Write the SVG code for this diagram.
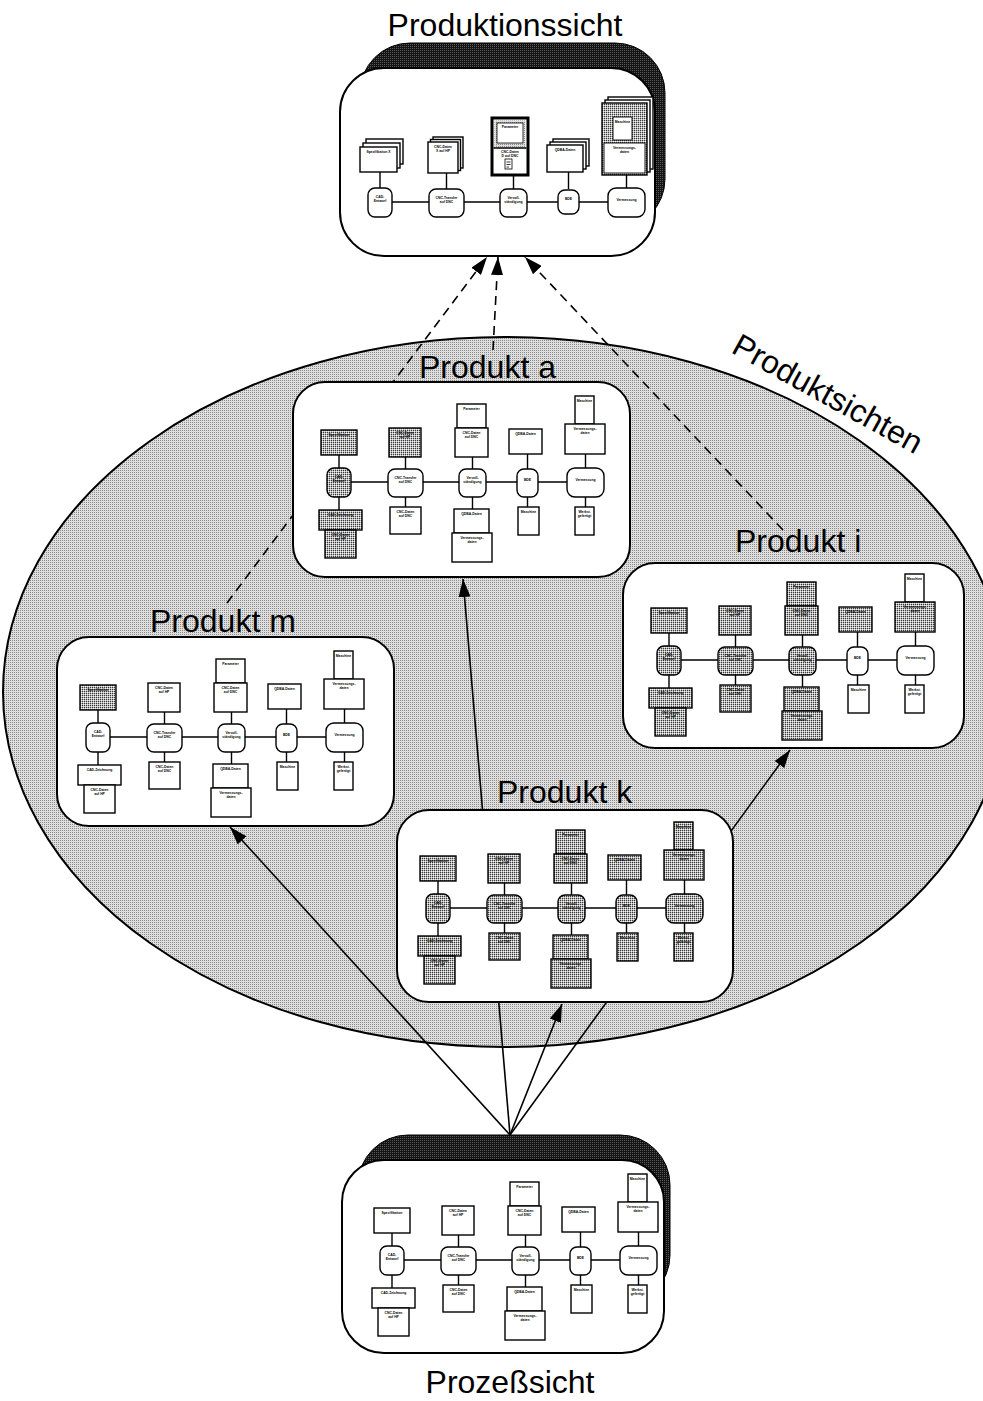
<svg xmlns="http://www.w3.org/2000/svg" width="983" height="1401" viewBox="0 0 983 1401">
<defs>
  <pattern id="dotL" width="2" height="2" patternUnits="userSpaceOnUse">
    <rect width="2" height="2" fill="#dedede"/><rect width="1" height="1" fill="#8a8a8a"/>
  </pattern>
  <pattern id="dotD" width="2" height="2" patternUnits="userSpaceOnUse">
    <rect width="2" height="2" fill="#b8b8b8"/><rect width="1" height="1" fill="#3a3a3a"/><rect x="1" y="1" width="1" height="1" fill="#f2f2f2"/>
  </pattern>
  <pattern id="dotK" width="2" height="2" patternUnits="userSpaceOnUse">
    <rect width="2" height="2" fill="#141414"/><rect width="1" height="1" fill="#5a5a5a"/>
  </pattern>
  <marker id="ah" markerUnits="userSpaceOnUse" viewBox="0 0 18 12" markerWidth="18" markerHeight="12" refX="18" refY="6" orient="auto">
    <path d="M0 0L18 6L0 12z" fill="#000"/>
  </marker>
  <style>
    .w{fill:#fff;stroke:#000;stroke-width:1.4}
    .s{fill:url(#dotD);stroke:#000;stroke-width:1.4}
    .ln{fill:none;stroke:#000;stroke-width:1.4}
    .t{font-family:"Liberation Sans",Arial,sans-serif;font-size:3.4px;font-weight:bold;text-anchor:middle;fill:#000}
    .box{fill:#fff;stroke:#000;stroke-width:2}
    .shadow{fill:url(#dotK);stroke:#000;stroke-width:1}
    .lbl{font-family:"Liberation Sans",Arial,sans-serif;font-size:32px;fill:#000}
    .dash{fill:none;stroke:#000;stroke-width:1.6;stroke-dasharray:9 6}
    .sol{fill:none;stroke:#000;stroke-width:1.6}
  </style>
</defs>

<rect width="983" height="1401" fill="#fff"/>

<!-- product views: shaded ellipse -->
<g id="produktsichten">
  <ellipse cx="505" cy="692" rx="502" ry="355" fill="url(#dotL)" stroke="#000" stroke-width="2"/>
  <text class="lbl" transform="translate(730 352) rotate(29)">Produktsichten</text>
</g>

<!-- connectors -->
<g id="connectors">
  <path class="dash" d="M227 603L487 257" marker-end="url(#ah)"/>
  <path class="dash" d="M493 350L498 257" marker-end="url(#ah)"/>
  <path class="dash" d="M783 530L525 257" marker-end="url(#ah)"/>
  <path class="sol" d="M510 1135L230 827" marker-end="url(#ah)"/>
  <path class="sol" d="M510 1135L463 579" marker-end="url(#ah)"/>
  <path class="sol" d="M510 1135L562 1004" marker-end="url(#ah)"/>
  <path class="sol" d="M510 1135L790 750" marker-end="url(#ah)"/>
</g>

<!-- production view -->
<g id="produktionssicht">
  <text class="lbl" x="505" y="36" text-anchor="middle">Produktionssicht</text>
  <rect class="shadow" x="360" y="43" width="305" height="186" rx="50"/>
  <rect class="box" x="340" y="68" width="315" height="188" rx="44"/>
  <g transform="translate(368 102)">
    <path class="ln" d="M12 100H258.5M12 70V86M78.5 71V87M145.5 73V87M200.5 70V87M258.5 73V86"/>
    <rect class="w" x="-2" y="37" width="37" height="25"/>
    <rect class="w" x="-5" y="41" width="37" height="25"/>
    <rect class="w" x="-8" y="45" width="37" height="25"/><text class="t" x="10.5" y="51">Spezifikation X</text>
    <rect class="w" x="65" y="35" width="30" height="31"/>
    <rect class="w" x="62.5" y="37.5" width="30" height="31"/>
    <rect class="w" x="60" y="40" width="30" height="31"/><text class="t" x="75" y="46">CNC-Daten<tspan x="75" dy="4.2">X auf HP</tspan></text>
    <rect x="124" y="16" width="36" height="57" fill="#fff" stroke="#000" stroke-width="3"/>
    <rect x="126.5" y="18.5" width="31" height="27" fill="url(#dotL)"/>
    <rect x="129" y="21" width="26" height="20" fill="#fff" stroke="#000" stroke-width="0.8"/><text class="t" x="142" y="26">Parameter</text>
    <path class="ln" d="M125.5 46H158.5"/>
    <text class="t" x="142" y="51">CNC-Daten<tspan x="142" dy="4.2">D auf DNC</tspan></text>
    <rect x="137" y="57" width="7" height="10" fill="#fff" stroke="#000" stroke-width="0.8"/>
    <path d="M138.5 60H142.5M138.5 62.5H142.5M138.5 65H141" stroke="#000" stroke-width="0.8"/>
    <rect class="w" x="185" y="37" width="36" height="27"/>
    <rect class="w" x="182" y="40" width="36" height="27"/>
    <rect class="w" x="179" y="43" width="36" height="27"/><text class="t" x="197" y="49">QDBA-Daten</text>
    <rect class="w" x="240" y="-5" width="45" height="72"/>
    <rect class="w" x="237" y="-2" width="45" height="72"/>
    <rect class="s" x="234" y="1" width="45" height="72"/>
    <rect x="245" y="15" width="19" height="23" fill="#fff" stroke="#000" stroke-width="0.9"/><text class="t" x="254.5" y="21">Maschine</text>
    <rect x="236" y="41" width="41" height="30" fill="#fff" stroke="#000" stroke-width="0.9"/><text class="t" x="256.5" y="47">Vermessungs-<tspan x="256.5" dy="4.2">daten</tspan></text>
    <rect class="w" x="0" y="86" width="24" height="29" rx="7"/><text class="t" x="12" y="96">CAD-<tspan x="12" dy="4.2">Entwurf</tspan></text>
    <rect class="w" x="61" y="87" width="35" height="28" rx="7"/><text class="t" x="78.5" y="97">CNC-Transfer<tspan x="78.5" dy="4.2">auf DNC</tspan></text>
    <rect class="w" x="132" y="87" width="27" height="28" rx="7"/><text class="t" x="145.5" y="97">Vervoll-<tspan x="145.5" dy="4.2">ständigung</tspan></text>
    <rect class="w" x="190" y="88" width="21" height="24" rx="7"/><text class="t" x="200.5" y="98">BDE</text>
    <rect class="w" x="240" y="86" width="37" height="29" rx="8"/><text class="t" x="258.5" y="99">Vermessung</text>
  </g>
</g>

<!-- product a -->
<g id="produkt-a">
  <rect class="box" x="293" y="382" width="337" height="195" rx="32"/>
  <text class="lbl" x="419" y="378">Produkt a</text>
  <g transform="translate(327 382)">
    <path class="ln" d="M12 100H258.5M12 73V86M12 115V128M78.5 75V87M78.5 115V125M145.5 75V87M145.5 115V127M200.5 72V87M200.5 115V125M258.5 72V86M258.5 115V125"/>
    <rect class="s" x="-6" y="48" width="36" height="25"/><text class="t" x="12" y="54">Spezifikation</text>
    <rect class="s" x="62" y="46" width="32" height="29"/><text class="t" x="78" y="52">CNC-Daten<tspan x="78" dy="4.2">auf HP</tspan></text>
    <rect class="w" x="130" y="22" width="29" height="24"/><text class="t" x="144.5" y="28">Parameter</text>
    <rect class="w" x="128" y="46" width="33" height="29"/><text class="t" x="144.5" y="52">CNC-Daten<tspan x="144.5" dy="4.2">auf DNC</tspan></text>
    <rect class="w" x="182" y="47" width="33" height="25"/><text class="t" x="198.5" y="53">QDBA-Daten</text>
    <rect class="w" x="248" y="14" width="19" height="28"/><text class="t" x="257.5" y="20">Maschine</text>
    <rect class="w" x="238" y="42" width="40" height="30"/><text class="t" x="258" y="48">Vermessungs-<tspan x="258" dy="4.2">daten</tspan></text>
    <rect class="s" x="0" y="86" width="24" height="29" rx="7"/><text class="t" x="12" y="96">CAD-<tspan x="12" dy="4.2">Entwurf</tspan></text>
    <rect class="w" x="61" y="87" width="35" height="28" rx="7"/><text class="t" x="78.5" y="97">CNC-Transfer<tspan x="78.5" dy="4.2">auf DNC</tspan></text>
    <rect class="w" x="132" y="87" width="27" height="28" rx="7"/><text class="t" x="145.5" y="97">Vervoll-<tspan x="145.5" dy="4.2">ständigung</tspan></text>
    <rect class="w" x="190" y="87" width="21" height="28" rx="7"/><text class="t" x="200.5" y="99">BDE</text>
    <rect class="w" x="240" y="86" width="37" height="29" rx="8"/><text class="t" x="258.5" y="99">Vermessung</text>
    <rect class="s" x="-8" y="128" width="43" height="20"/><text class="t" x="13.5" y="134">CAD-Zeichnung</text>
    <rect class="s" x="-2" y="148" width="31" height="28"/><text class="t" x="13.5" y="154">CNC-Daten<tspan x="13.5" dy="4.2">auf HP</tspan></text>
    <rect class="w" x="63" y="125" width="31" height="27"/><text class="t" x="78.5" y="131">CNC-Daten<tspan x="78.5" dy="4.2">auf DNC</tspan></text>
    <rect class="w" x="127" y="127" width="35" height="24"/><text class="t" x="144.5" y="133">QDBA-Daten</text>
    <rect class="w" x="125" y="151" width="40" height="29"/><text class="t" x="145" y="157">Vermessungs-<tspan x="145" dy="4.2">daten</tspan></text>
    <rect class="w" x="191" y="125" width="21" height="28"/><text class="t" x="201.5" y="131">Maschine</text>
    <rect class="w" x="248" y="125" width="19" height="28"/><text class="t" x="257.5" y="131">Werkst.<tspan x="257.5" dy="4.2">gefertigt</tspan></text>
  </g>
</g>

<!-- product m -->
<g id="produkt-m">
  <rect class="box" x="57" y="637" width="337" height="189" rx="32"/>
  <text class="lbl" x="150" y="632">Produkt m</text>
  <g transform="translate(86 637)">
    <path class="ln" d="M12 100H258.5M12 73V86M12 115V128M78.5 75V87M78.5 115V125M145.5 75V87M145.5 115V127M200.5 72V87M200.5 115V125M258.5 72V86M258.5 115V125"/>
    <rect class="s" x="-6" y="48" width="36" height="25"/><text class="t" x="12" y="54">Spezifikation</text>
    <rect class="w" x="62" y="46" width="32" height="29"/><text class="t" x="78" y="52">CNC-Daten<tspan x="78" dy="4.2">auf HP</tspan></text>
    <rect class="w" x="130" y="22" width="29" height="24"/><text class="t" x="144.5" y="28">Parameter</text>
    <rect class="w" x="128" y="46" width="33" height="29"/><text class="t" x="144.5" y="52">CNC-Daten<tspan x="144.5" dy="4.2">auf DNC</tspan></text>
    <rect class="w" x="182" y="47" width="33" height="25"/><text class="t" x="198.5" y="53">QDBA-Daten</text>
    <rect class="w" x="248" y="14" width="19" height="28"/><text class="t" x="257.5" y="20">Maschine</text>
    <rect class="w" x="238" y="42" width="40" height="30"/><text class="t" x="258" y="48">Vermessungs-<tspan x="258" dy="4.2">daten</tspan></text>
    <rect class="w" x="0" y="86" width="24" height="29" rx="7"/><text class="t" x="12" y="96">CAD-<tspan x="12" dy="4.2">Entwurf</tspan></text>
    <rect class="w" x="61" y="87" width="35" height="28" rx="7"/><text class="t" x="78.5" y="97">CNC-Transfer<tspan x="78.5" dy="4.2">auf DNC</tspan></text>
    <rect class="w" x="132" y="87" width="27" height="28" rx="7"/><text class="t" x="145.5" y="97">Vervoll-<tspan x="145.5" dy="4.2">ständigung</tspan></text>
    <rect class="w" x="190" y="87" width="21" height="28" rx="7"/><text class="t" x="200.5" y="99">BDE</text>
    <rect class="w" x="240" y="86" width="37" height="29" rx="8"/><text class="t" x="258.5" y="99">Vermessung</text>
    <rect class="w" x="-8" y="128" width="43" height="20"/><text class="t" x="13.5" y="134">CAD-Zeichnung</text>
    <rect class="w" x="-2" y="148" width="31" height="28"/><text class="t" x="13.5" y="154">CNC-Daten<tspan x="13.5" dy="4.2">auf HP</tspan></text>
    <rect class="w" x="63" y="125" width="31" height="27"/><text class="t" x="78.5" y="131">CNC-Daten<tspan x="78.5" dy="4.2">auf DNC</tspan></text>
    <rect class="w" x="127" y="127" width="35" height="24"/><text class="t" x="144.5" y="133">QDBA-Daten</text>
    <rect class="w" x="125" y="151" width="40" height="29"/><text class="t" x="145" y="157">Vermessungs-<tspan x="145" dy="4.2">daten</tspan></text>
    <rect class="w" x="191" y="125" width="21" height="28"/><text class="t" x="201.5" y="131">Maschine</text>
    <rect class="w" x="248" y="125" width="19" height="28"/><text class="t" x="257.5" y="131">Werkst.<tspan x="257.5" dy="4.2">gefertigt</tspan></text>
  </g>
</g>

<!-- product i -->
<g id="produkt-i">
  <rect class="box" x="623" y="563" width="341" height="185" rx="32"/>
  <text class="lbl" x="735" y="552">Produkt i</text>
  <g transform="translate(657 560)">
    <path class="ln" d="M12 100H258.5M12 73V86M12 115V128M78.5 75V87M78.5 115V125M145.5 75V87M145.5 115V127M200.5 72V87M200.5 115V125M258.5 72V86M258.5 115V125"/>
    <rect class="s" x="-6" y="48" width="36" height="25"/><text class="t" x="12" y="54">Spezifikation</text>
    <rect class="s" x="62" y="46" width="32" height="29"/><text class="t" x="78" y="52">CNC-Daten<tspan x="78" dy="4.2">auf HP</tspan></text>
    <rect class="s" x="130" y="22" width="29" height="24"/><text class="t" x="144.5" y="28">Parameter</text>
    <rect class="s" x="128" y="46" width="33" height="29"/><text class="t" x="144.5" y="52">CNC-Daten<tspan x="144.5" dy="4.2">auf DNC</tspan></text>
    <rect class="s" x="182" y="47" width="33" height="25"/><text class="t" x="198.5" y="53">QDBA-Daten</text>
    <rect class="w" x="248" y="14" width="19" height="28"/><text class="t" x="257.5" y="20">Maschine</text>
    <rect class="s" x="238" y="42" width="40" height="30"/><text class="t" x="258" y="48">Vermessungs-<tspan x="258" dy="4.2">daten</tspan></text>
    <rect class="s" x="0" y="86" width="24" height="29" rx="7"/><text class="t" x="12" y="96">CAD-<tspan x="12" dy="4.2">Entwurf</tspan></text>
    <rect class="s" x="61" y="87" width="35" height="28" rx="7"/><text class="t" x="78.5" y="97">CNC-Transfer<tspan x="78.5" dy="4.2">auf DNC</tspan></text>
    <rect class="s" x="132" y="87" width="27" height="28" rx="7"/><text class="t" x="145.5" y="97">Vervoll-<tspan x="145.5" dy="4.2">ständigung</tspan></text>
    <rect class="w" x="190" y="87" width="21" height="28" rx="7"/><text class="t" x="200.5" y="99">BDE</text>
    <rect class="w" x="240" y="86" width="37" height="29" rx="8"/><text class="t" x="258.5" y="99">Vermessung</text>
    <rect class="s" x="-8" y="128" width="43" height="20"/><text class="t" x="13.5" y="134">CAD-Zeichnung</text>
    <rect class="s" x="-2" y="148" width="31" height="28"/><text class="t" x="13.5" y="154">CNC-Daten<tspan x="13.5" dy="4.2">auf HP</tspan></text>
    <rect class="s" x="63" y="125" width="31" height="27"/><text class="t" x="78.5" y="131">CNC-Daten<tspan x="78.5" dy="4.2">auf DNC</tspan></text>
    <rect class="s" x="127" y="127" width="35" height="24"/><text class="t" x="144.5" y="133">QDBA-Daten</text>
    <rect class="s" x="125" y="151" width="40" height="29"/><text class="t" x="145" y="157">Vermessungs-<tspan x="145" dy="4.2">daten</tspan></text>
    <rect class="w" x="191" y="125" width="21" height="28"/><text class="t" x="201.5" y="131">Maschine</text>
    <rect class="w" x="248" y="125" width="19" height="28"/><text class="t" x="257.5" y="131">Werkst.<tspan x="257.5" dy="4.2">gefertigt</tspan></text>
  </g>
</g>

<!-- product k -->
<g id="produkt-k">
  <rect class="box" x="397" y="810" width="336" height="192" rx="32"/>
  <text class="lbl" x="497" y="803">Produkt k</text>
  <g transform="translate(426 808)">
    <path class="ln" d="M12 100H258.5M12 73V86M12 115V128M78.5 75V87M78.5 115V125M145.5 75V87M145.5 115V127M200.5 72V87M200.5 115V125M258.5 72V86M258.5 115V125"/>
    <rect class="s" x="-6" y="48" width="36" height="25"/><text class="t" x="12" y="54">Spezifikation</text>
    <rect class="s" x="62" y="46" width="32" height="29"/><text class="t" x="78" y="52">CNC-Daten<tspan x="78" dy="4.2">auf HP</tspan></text>
    <rect class="s" x="130" y="22" width="29" height="24"/><text class="t" x="144.5" y="28">Parameter</text>
    <rect class="s" x="128" y="46" width="33" height="29"/><text class="t" x="144.5" y="52">CNC-Daten<tspan x="144.5" dy="4.2">auf DNC</tspan></text>
    <rect class="s" x="182" y="47" width="33" height="25"/><text class="t" x="198.5" y="53">QDBA-Daten</text>
    <rect class="s" x="248" y="14" width="19" height="28"/><text class="t" x="257.5" y="20">Maschine</text>
    <rect class="s" x="238" y="42" width="40" height="30"/><text class="t" x="258" y="48">Vermessungs-<tspan x="258" dy="4.2">daten</tspan></text>
    <rect class="s" x="0" y="86" width="24" height="29" rx="7"/><text class="t" x="12" y="96">CAD-<tspan x="12" dy="4.2">Entwurf</tspan></text>
    <rect class="s" x="61" y="87" width="35" height="28" rx="7"/><text class="t" x="78.5" y="97">CNC-Transfer<tspan x="78.5" dy="4.2">auf DNC</tspan></text>
    <rect class="s" x="132" y="87" width="27" height="28" rx="7"/><text class="t" x="145.5" y="97">Vervoll-<tspan x="145.5" dy="4.2">ständigung</tspan></text>
    <rect class="s" x="190" y="87" width="21" height="28" rx="7"/><text class="t" x="200.5" y="99">BDE</text>
    <rect class="s" x="240" y="86" width="37" height="29" rx="8"/><text class="t" x="258.5" y="99">Vermessung</text>
    <rect class="s" x="-8" y="128" width="43" height="20"/><text class="t" x="13.5" y="134">CAD-Zeichnung</text>
    <rect class="s" x="-2" y="148" width="31" height="28"/><text class="t" x="13.5" y="154">CNC-Daten<tspan x="13.5" dy="4.2">auf HP</tspan></text>
    <rect class="s" x="63" y="125" width="31" height="27"/><text class="t" x="78.5" y="131">CNC-Daten<tspan x="78.5" dy="4.2">auf DNC</tspan></text>
    <rect class="s" x="127" y="127" width="35" height="24"/><text class="t" x="144.5" y="133">QDBA-Daten</text>
    <rect class="s" x="125" y="151" width="40" height="29"/><text class="t" x="145" y="157">Vermessungs-<tspan x="145" dy="4.2">daten</tspan></text>
    <rect class="s" x="191" y="125" width="21" height="28"/><text class="t" x="201.5" y="131">Maschine</text>
    <rect class="s" x="248" y="125" width="19" height="28"/><text class="t" x="257.5" y="131">Werkst.<tspan x="257.5" dy="4.2">gefertigt</tspan></text>
  </g>
</g>

<!-- process view -->
<g id="prozesssicht">
  <rect class="shadow" x="358" y="1135" width="312" height="170" rx="50"/>
  <rect class="box" x="342" y="1160" width="322" height="193" rx="42"/>
  <text class="lbl" x="510" y="1393" text-anchor="middle">Prozeßsicht</text>
  <g transform="translate(380 1160)">
    <path class="ln" d="M12 100H258.5M12 73V86M12 115V128M78.5 75V87M78.5 115V125M145.5 75V87M145.5 115V127M200.5 72V87M200.5 115V125M258.5 72V86M258.5 115V125"/>
    <rect class="w" x="-6" y="48" width="36" height="25"/><text class="t" x="12" y="54">Spezifikation</text>
    <rect class="w" x="62" y="46" width="32" height="29"/><text class="t" x="78" y="52">CNC-Daten<tspan x="78" dy="4.2">auf HP</tspan></text>
    <rect class="w" x="130" y="22" width="29" height="24"/><text class="t" x="144.5" y="28">Parameter</text>
    <rect class="w" x="128" y="46" width="33" height="29"/><text class="t" x="144.5" y="52">CNC-Daten<tspan x="144.5" dy="4.2">auf DNC</tspan></text>
    <rect class="w" x="182" y="47" width="33" height="25"/><text class="t" x="198.5" y="53">QDBA-Daten</text>
    <rect class="w" x="248" y="14" width="19" height="28"/><text class="t" x="257.5" y="20">Maschine</text>
    <rect class="w" x="238" y="42" width="40" height="30"/><text class="t" x="258" y="48">Vermessungs-<tspan x="258" dy="4.2">daten</tspan></text>
    <rect class="w" x="0" y="86" width="24" height="29" rx="7"/><text class="t" x="12" y="96">CAD-<tspan x="12" dy="4.2">Entwurf</tspan></text>
    <rect class="w" x="61" y="87" width="35" height="28" rx="7"/><text class="t" x="78.5" y="97">CNC-Transfer<tspan x="78.5" dy="4.2">auf DNC</tspan></text>
    <rect class="w" x="132" y="87" width="27" height="28" rx="7"/><text class="t" x="145.5" y="97">Vervoll-<tspan x="145.5" dy="4.2">ständigung</tspan></text>
    <rect class="w" x="190" y="87" width="21" height="28" rx="7"/><text class="t" x="200.5" y="99">BDE</text>
    <rect class="w" x="240" y="86" width="37" height="29" rx="8"/><text class="t" x="258.5" y="99">Vermessung</text>
    <rect class="w" x="-8" y="128" width="43" height="20"/><text class="t" x="13.5" y="134">CAD-Zeichnung</text>
    <rect class="w" x="-2" y="148" width="31" height="28"/><text class="t" x="13.5" y="154">CNC-Daten<tspan x="13.5" dy="4.2">auf HP</tspan></text>
    <rect class="w" x="63" y="125" width="31" height="27"/><text class="t" x="78.5" y="131">CNC-Daten<tspan x="78.5" dy="4.2">auf DNC</tspan></text>
    <rect class="w" x="127" y="127" width="35" height="24"/><text class="t" x="144.5" y="133">QDBA-Daten</text>
    <rect class="w" x="125" y="151" width="40" height="29"/><text class="t" x="145" y="157">Vermessungs-<tspan x="145" dy="4.2">daten</tspan></text>
    <rect class="w" x="191" y="125" width="21" height="28"/><text class="t" x="201.5" y="131">Maschine</text>
    <rect class="w" x="248" y="125" width="19" height="28"/><text class="t" x="257.5" y="131">Werkst.<tspan x="257.5" dy="4.2">gefertigt</tspan></text>
  </g>
</g>
</svg>
